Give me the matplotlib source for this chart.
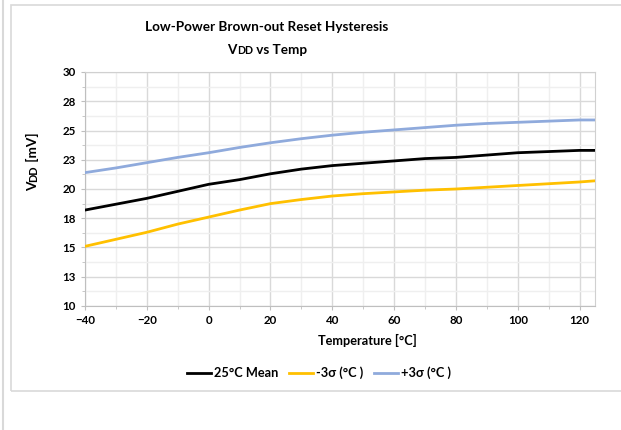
import matplotlib

matplotlib.use("Agg")
import matplotlib.pyplot as plt
from matplotlib.lines import Line2D
from matplotlib.patches import Rectangle

plt.rcParams["font.family"] = ["Lato", "DejaVu Sans"]

# values
temps = [-40, -30, -20, -10, 0, 10, 20, 30, 40, 50, 60, 70, 80, 90, 100, 110, 120, 125]
mean_25c = [18.2, 18.7, 19.2, 19.8, 20.4, 20.8, 21.3, 21.7, 22.0, 22.2, 22.4, 22.6,
            22.7, 22.9, 23.1, 23.2, 23.3, 23.3]
minus_3sigma = [15.1, 15.7, 16.3, 17.0, 17.6, 18.2, 18.75, 19.1, 19.4, 19.6, 19.75, 19.9,
                20.0, 20.15, 20.3, 20.45, 20.6, 20.7]
plus_3sigma = [21.4, 21.8, 22.25, 22.7, 23.1, 23.55, 23.95, 24.3, 24.6, 24.85, 25.05, 25.25,
               25.45, 25.6, 25.7, 25.8, 25.9, 25.9]

x_ticks = [-40, -20, 0, 20, 40, 60, 80, 100, 120]
y_ticks = [10, 12.5, 15, 17.5, 20, 22.5, 25, 27.5, 30]
y_tick_labels = ["10", "13", "15", "18", "20", "23", "25", "28", "30"]

BLACK = "#000000"
ORANGE = "#FFC000"
BLUE = "#8FAADC"
FRAME = "#D9D9D9"

W, H = 621, 430
fig = plt.figure(figsize=(W / 100, H / 100), dpi=100)

# chart frame (the image is cropped on the right)
fig.add_artist(Rectangle((11 / W, 1 - 391 / H), 1.2, (391 - 5) / H, transform=fig.transFigure,
                         fill=False, edgecolor=FRAME, linewidth=1.2))
fig.add_artist(Line2D([3 / W, 3 / W], [0, 1], transform=fig.transFigure, color=FRAME, linewidth=1.5))

ax = fig.add_axes([85 / W, 1 - 306 / H, (595 - 85) / W, (306 - 72) / H])
ax.plot(temps, mean_25c, color=BLACK, linewidth=2, label="25°C Mean", zorder=3)
ax.plot(temps, minus_3sigma, color=ORANGE, linewidth=2, label="-3σ (°C )", zorder=3)
ax.plot(temps, plus_3sigma, color=BLUE, linewidth=2, label="+3σ (°C )", zorder=3)

ax.set_xlim(-40, 125)
ax.set_ylim(10, 30)
ax.set_xticks(x_ticks)
ax.set_xticks(range(-30, 125, 20), minor=True)
ax.set_yticks(y_ticks)
ax.set_yticklabels(y_tick_labels)
ax.set_yticks([11.25 + 2.5 * i for i in range(8)], minor=True)
ax.grid(True, which="major", color="#D9D9D9", linewidth=1)
ax.grid(True, which="minor", color="#EFEFEF", linewidth=1)
ax.set_axisbelow(True)
for s in ax.spines.values():
    s.set_color("#BFBFBF")
ax.spines["right"].set_color("#D0D0D0")
ax.spines["top"].set_color("#D0D0D0")
ax.tick_params(which="both", direction="out", color="#BFBFBF", length=3, labelsize=8.3)
ax.tick_params(which="minor", length=2)
for lab in ax.get_xticklabels() + ax.get_yticklabels():
    lab.set_fontweight("bold")

fig.legend(loc="center", bbox_to_anchor=(319 / W, 1 - 373 / H), ncol=3, frameon=False,
           prop={"weight": "bold", "size": 9.2}, handlelength=1.9, columnspacing=0.8, handletextpad=0.25)

renderer = fig.canvas.get_renderer()


def run_text(pieces, x, y, vertical=False):
    """Draw (text, size) pieces one after another, centred on (x, y) in pixels."""
    arts = []
    for txt, size in pieces:
        t = fig.text(0, 0, txt, fontsize=size, fontweight="bold", va="baseline", ha="left",
                     rotation=90 if vertical else 0, rotation_mode="anchor")
        arts.append(t)
    lens = []
    for t in arts:
        bb = t.get_window_extent(renderer)
        lens.append(bb.height if vertical else bb.width)
    total = sum(lens)
    pos = -total / 2
    for t, n in zip(arts, lens):
        if vertical:
            t.set_position((x / W, (H - y + pos) / H))
        else:
            t.set_position(((x + pos) / W, (H - y) / H))
        pos += n


run_text([("Low-Power Brown-out Reset Hysteresis", 9.7)], 267, 31)
run_text([("V", 9.7), ("DD", 7.6), (" vs Temp", 9.7)], 267, 54)
run_text([("V", 9.8), ("DD", 7.8), (" [mV]", 9.8)], 37, 162, vertical=True)
run_text([("Temperature [°C]", 9.2)], 367, 345)

fig.savefig("out.png", dpi=100)
